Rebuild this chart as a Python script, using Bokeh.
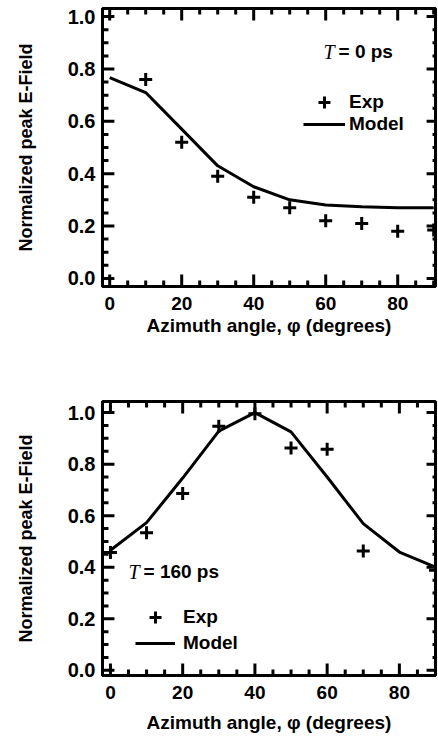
from bokeh.plotting import figure
from bokeh.models import (Range1d, Legend, LegendItem, Label,
                          FixedTicker, NumeralTickFormatter)
from bokeh.layouts import column
from bokeh.embed import file_html
from bokeh.resources import INLINE

# ---------------- data ----------------
angles = [0, 10, 20, 30, 40, 50, 60, 70, 80, 90]

exp0_x = [10, 20, 30, 40, 50, 60, 70, 80, 90]
exp0_y = [0.76, 0.52, 0.39, 0.31, 0.27, 0.22, 0.21, 0.18, 0.185]
model0_y = [0.767, 0.71, 0.57, 0.43, 0.35, 0.30, 0.28, 0.274, 0.27, 0.27]

exp160_x = [0, 10, 20, 30, 40, 50, 60, 70, 90]
exp160_y = [0.457, 0.534, 0.686, 0.947, 0.995, 0.863, 0.858, 0.463, 0.388]
model160_y = [0.466, 0.573, 0.746, 0.928, 1.0, 0.925, 0.75, 0.569, 0.459, 0.40]

x_major = [0, 20, 40, 60, 80]
x_minor = [5, 10, 15, 25, 30, 35, 45, 50, 55, 65, 70, 75, 85, 90]
y_major = [0.0, 0.2, 0.4, 0.6, 0.8, 1.0]
y_minor = [0.05, 0.1, 0.15, 0.25, 0.3, 0.35, 0.45, 0.5, 0.55,
           0.65, 0.7, 0.75, 0.85, 0.9, 0.95]

panel_titles = ["= 0 ps", "= 160 ps"]
x_label = "Azimuth angle, \u03c6 (degrees)"
y_label = "Normalized peak E-Field"

FONT = "Liberation Sans"
MAJOR_LEN = 12   # px
MINOR_LEN = 6    # px
NAN = float("nan")


def inner_ticks(p, xr, yr, frame_w, frame_h):
    """Inward tick marks on all four sides, drawn as one broken line."""
    ux = (xr[1] - xr[0]) / frame_w   # data units per pixel
    uy = (yr[1] - yr[0]) / frame_h
    xs, ys = [], []
    for ticks, ln in ((x_major, MAJOR_LEN), (x_minor, MINOR_LEN)):
        for t in ticks:
            xs += [t, t, NAN]
            ys += [yr[0], yr[0] + ln * uy, NAN]
            xs += [t, t, NAN]
            ys += [yr[1], yr[1] - ln * uy, NAN]
    for ticks, ln in ((y_major, MAJOR_LEN), (y_minor, MINOR_LEN)):
        for t in ticks:
            xs += [xr[0], xr[0] + ln * ux, NAN]
            ys += [t, t, NAN]
            xs += [xr[1], xr[1] - (ln - 3) * ux, NAN]
            ys += [t, t, NAN]
    p.line(xs, ys, line_color="black", line_width=3, line_cap="butt")


def make_panel(height, borders, xr, yr, exp_x, exp_y, model_y, title,
               title_pos, leg_exp, leg_model, gw, standoff, x_std, xl_std):
    top, right, bottom, left = borders
    width = 438
    frame_w = width - left - right
    frame_h = height - top - bottom
    p = figure(width=width, height=height, output_backend="svg",
               toolbar_location=None, x_range=Range1d(*xr), y_range=Range1d(*yr),
               min_border_top=top, min_border_right=right,
               min_border_bottom=bottom, min_border_left=left)
    p.xgrid.grid_line_color = None
    p.ygrid.grid_line_color = None
    p.outline_line_color = "black"
    p.outline_line_width = 3

    p.xaxis.ticker = FixedTicker(ticks=x_major)
    p.yaxis.ticker = FixedTicker(ticks=y_major)
    p.yaxis.formatter = NumeralTickFormatter(format="0.0")
    p.xaxis.axis_label = x_label
    p.yaxis.axis_label = y_label
    for ax in list(p.xaxis) + list(p.yaxis):
        ax.axis_line_width = 3
        ax.axis_line_color = "black"
        ax.major_tick_in = 0
        ax.major_tick_out = 0
        ax.minor_tick_in = 0
        ax.minor_tick_out = 0
        ax.major_label_text_font = FONT
        ax.major_label_text_font_style = "bold"
        ax.major_label_text_color = "black"
        ax.axis_label_text_font = FONT
        ax.axis_label_text_font_style = "bold"
        ax.axis_label_text_color = "black"
    for ax in p.xaxis:
        ax.major_label_text_font_size = "19px"
        ax.axis_label_text_font_size = "19px"
        ax.major_label_standoff = x_std
        ax.axis_label_standoff = xl_std
    for ax in p.yaxis:
        ax.major_label_text_font_size = "20px"
        ax.axis_label_text_font_size = "18px"
        ax.major_label_standoff = 7
        ax.axis_label_standoff = 29

    ln = p.line(angles, model_y, line_color="black", line_width=3)
    sc = p.scatter(exp_x, exp_y, marker="cross", size=13, line_color="black",
                   line_width=3)

    inner_ticks(p, xr, yr, frame_w, frame_h)

    common = dict(glyph_width=gw, label_standoff=standoff, padding=0, margin=0,
                  spacing=0, background_fill_alpha=0, border_line_alpha=0,
                  label_text_font=FONT, label_text_font_style="bold",
                  label_text_font_size="19px", label_text_color="black",
                  label_height=20)
    p.add_layout(Legend(items=[LegendItem(label="Exp", renderers=[sc])],
                        location=leg_exp, glyph_height=30, **common))
    p.add_layout(Legend(items=[LegendItem(label="Model", renderers=[ln])],
                        location=leg_model, glyph_height=24, **common))

    tx, ty = title_pos
    p.add_layout(Label(x=tx, y=ty, text="T", text_font="Liberation Serif",
                       text_font_style="italic", text_font_size="20px",
                       text_baseline="middle", text_color="black"))
    p.add_layout(Label(x=tx, y=ty, x_offset=15, text=title, text_font=FONT,
                       text_font_style="bold", text_font_size="19px",
                       text_baseline="middle", text_color="black"))
    return p


p1 = make_panel(370, (8, 3, 84, 99), (-2.0, 90.5), (-0.031, 1.031),
                exp0_x, exp0_y, model0_y, panel_titles[0], (59.4, 0.866),
                (201, 169), (201, 150), 42, 4, 10, 2)
p2 = make_panel(366, (31, 2, 61, 102), (-2.2, 90.0), (-0.02, 1.043),
                exp160_x, exp160_y, model160_y, panel_titles[1], (5.0, 0.383),
                (33, 43), (33, 20), 40, 8, 10, 10)

layout = column(p1, p2, spacing=0)
open("out.html", "w").write(file_html(layout, INLINE))
